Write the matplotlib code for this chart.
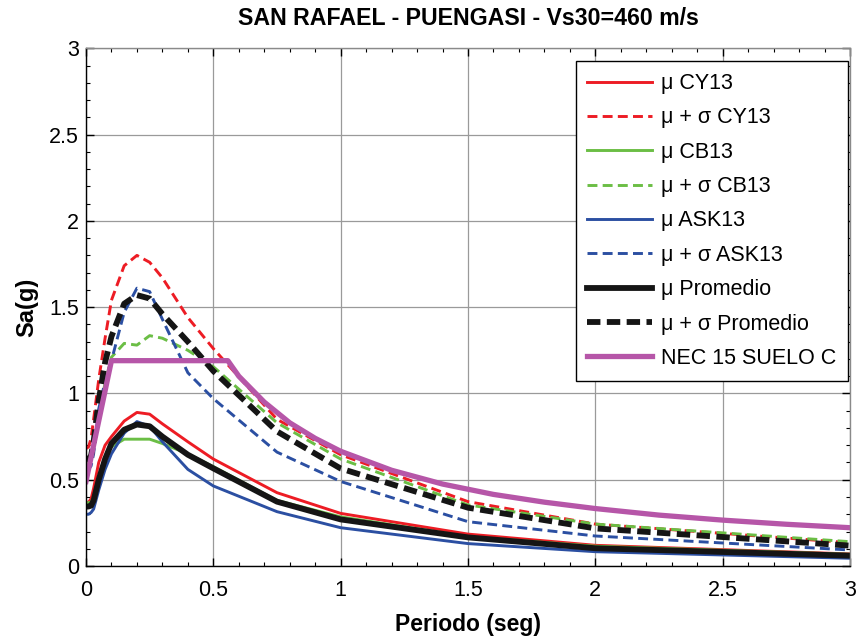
import matplotlib
matplotlib.use("Agg")
import matplotlib.pyplot as plt
from matplotlib.ticker import MultipleLocator, FuncFormatter

plt.rcParams['font.family'] = ['Liberation Sans', 'DejaVu Sans']

# Periods (s)
periods = [0, 0.01, 0.02, 0.03, 0.05, 0.075, 0.1, 0.15, 0.2, 0.25, 0.3, 0.4,
           0.5, 0.75, 1.0, 1.5, 2.0, 3.0]

cy13_mu = [0.37, 0.37, 0.39, 0.45, 0.60, 0.70, 0.75, 0.84, 0.89, 0.88, 0.824, 0.72,
           0.62, 0.425, 0.305, 0.185, 0.12, 0.07]
cy13_ms = [0.68, 0.69, 0.74, 0.85, 1.08, 1.32, 1.54, 1.74, 1.80, 1.76, 1.67, 1.44,
           1.26, 0.85, 0.645, 0.373, 0.243, 0.135]
cb13_mu = [0.367, 0.367, 0.37, 0.40, 0.52, 0.63, 0.69, 0.735, 0.735, 0.735, 0.71, 0.65,
           0.576, 0.38, 0.285, 0.17, 0.115, 0.068]
cb13_ms = [0.60, 0.60, 0.62, 0.68, 0.88, 1.06, 1.21, 1.29, 1.28, 1.335, 1.32, 1.25,
           1.155, 0.83, 0.62, 0.354, 0.243, 0.141]
ask13_mu = [0.30, 0.30, 0.31, 0.33, 0.44, 0.56, 0.65, 0.77, 0.837, 0.81, 0.72, 0.56,
            0.464, 0.315, 0.222, 0.13, 0.083, 0.045]
ask13_ms = [0.557, 0.56, 0.58, 0.65, 0.91, 1.07, 1.19, 1.47, 1.61, 1.59, 1.43, 1.12,
            0.97, 0.66, 0.49, 0.257, 0.174, 0.093]
prom_mu = [0.344, 0.345, 0.35, 0.38, 0.50, 0.62, 0.71, 0.79, 0.82, 0.81, 0.75, 0.645,
           0.566, 0.373, 0.27, 0.166, 0.103, 0.06]
prom_ms = [0.62, 0.62, 0.64, 0.72, 0.96, 1.18, 1.33, 1.52, 1.57, 1.55, 1.46, 1.30,
           1.13, 0.78, 0.565, 0.338, 0.218, 0.118]

nec_periods = [0, 0.1, 0.557, 0.6, 0.7, 0.8, 0.9, 1.0, 1.2, 1.4, 1.6, 1.8, 2.0,
               2.25, 2.5, 2.75, 3.0]
nec_sa = [0.49, 1.19, 1.19, 1.10, 0.95, 0.83, 0.74, 0.665, 0.555, 0.475, 0.415,
          0.37, 0.333, 0.295, 0.266, 0.242, 0.222]

labels = ['\u03bc CY13', '\u03bc + \u03c3 CY13', '\u03bc CB13', '\u03bc + \u03c3 CB13',
          '\u03bc ASK13', '\u03bc + \u03c3 ASK13', '\u03bc Promedio',
          '\u03bc + \u03c3 Promedio', 'NEC 15 SUELO C']

RED = '#ED1C24'
GREEN = '#6BBE45'
BLUE = '#2B4FA2'
MAG = '#B656A8'
BLK = '#151515'

fig = plt.figure(figsize=(8.65, 6.39), dpi=100)
ax = fig.add_axes([0.0994, 0.1142, 0.8833, 0.8102])

lw_c = 2.1
lw_k = 4.2
dash_c = (0, (3.4, 1.8))
dash_k = (0, (2.3, 1.1))
ax.plot(periods, cy13_mu, color=RED, lw=lw_c, label=labels[0])
ax.plot(periods, cy13_ms, color=RED, lw=lw_c, ls=dash_c, label=labels[1])
ax.plot(periods, cb13_mu, color=GREEN, lw=lw_c, label=labels[2])
ax.plot(periods, cb13_ms, color=GREEN, lw=lw_c, ls=dash_c, label=labels[3])
ax.plot(periods, ask13_mu, color=BLUE, lw=lw_c, label=labels[4])
ax.plot(periods, ask13_ms, color=BLUE, lw=lw_c, ls=dash_c, label=labels[5])
ax.plot(periods, prom_mu, color=BLK, lw=lw_k, label=labels[6])
ax.plot(periods, prom_ms, color=BLK, lw=lw_k, ls=dash_k, label=labels[7])
ax.plot(nec_periods, nec_sa, color=MAG, lw=3.8, label=labels[8])

ax.set_xlim(0, 3)
ax.set_ylim(0, 3)
ax.xaxis.set_major_locator(MultipleLocator(0.5))
ax.yaxis.set_major_locator(MultipleLocator(0.5))
ax.xaxis.set_minor_locator(MultipleLocator(0.1))
ax.yaxis.set_minor_locator(MultipleLocator(0.1))
ax.xaxis.set_major_formatter(FuncFormatter(lambda v, p: '%g' % v))
ax.yaxis.set_major_formatter(FuncFormatter(lambda v, p: '%g' % v))

ax.grid(True, which='major', color='#9a9a9a', lw=0.9)
ax.set_axisbelow(True)
ax.tick_params(which='both', direction='in', top=True, right=True,
               labelsize=15.5, colors='black')
ax.tick_params(axis='x', which='major', pad=10)
ax.tick_params(axis='y', which='major', pad=5)
ax.tick_params(which='major', length=6, width=1)
ax.tick_params(which='minor', length=3, width=0.8)
for s in ['left', 'bottom']:
    ax.spines[s].set_color('black')
    ax.spines[s].set_linewidth(1.0)
for s in ['top', 'right']:
    ax.spines[s].set_color('#8a8a8a')
    ax.spines[s].set_linewidth(1.0)

ax.set_title('SAN RAFAEL - PUENGASI - Vs30=460 m/s', fontsize=16.7,
             fontweight='bold', pad=17)
ax.set_xlabel('Periodo (seg)', fontsize=16.5, fontweight='bold', labelpad=9)
ax.set_ylabel('Sa(g)', fontsize=17, fontweight='bold', labelpad=8)

leg = ax.legend(loc='upper right', bbox_to_anchor=(0.997, 0.975), fontsize=15.5,
                frameon=True, fancybox=False, edgecolor='black', framealpha=1,
                handlelength=3.0, handletextpad=0.4, labelspacing=0.62,
                borderpad=0.55, borderaxespad=0)
leg.get_frame().set_linewidth(1.0)

fig.savefig('out.png', dpi=100)
